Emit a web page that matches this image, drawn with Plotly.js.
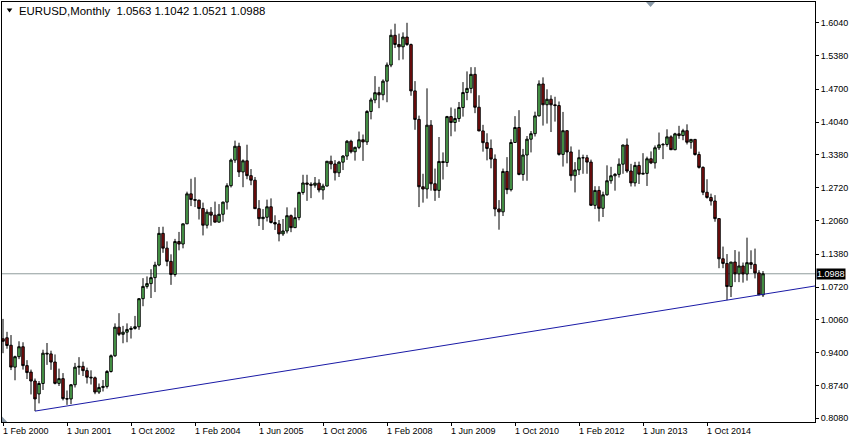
<!DOCTYPE html>
<html><head><meta charset="utf-8">
<script src="https://cdn.plot.ly/plotly-3.0.1.min.js"></script>
<style>html,body{margin:0;padding:0;background:#fff;}#chart{width:855px;height:440px;}</style>
</head><body><div id="chart"></div>
<script>
// EURUSD monthly bars, Feb 2000 .. Dec 2015 (bar index 0 = Feb 2000)
const symbol = 'EURUSD,Monthly';
const open = [
 0.9680,0.9700,0.9550,0.9110,0.9320,0.9520,0.9140,0.9010,0.8830,0.8570,0.8780,
 0.9390,0.9376,0.9212,0.8783,0.8878,0.8476,0.8469,0.8755,0.9109,0.9125,0.9039,0.8907,
 0.8895,0.8608,0.8701,0.8721,0.9022,0.9338,0.9914,0.9770,0.9813,0.9868,0.9889,0.9922,
 1.0487,1.0734,1.0790,1.0910,1.1164,1.1801,1.1504,1.1238,1.0973,1.1636,1.1587,1.1993,
 1.2596,1.2482,1.2468,1.2302,1.1965,1.2228,1.2168,1.2027,1.2185,1.2430,1.2760,1.3275,
 1.3554,1.3037,1.3261,1.2962,1.2871,1.2298,1.2097,1.2125,1.2336,1.2020,1.1990,1.1790,
 1.1849,1.2157,1.1916,1.2118,1.2623,1.2815,1.2790,1.2770,1.2812,1.2675,1.2753,1.3252,
 1.3197,1.3020,1.3234,1.3357,1.3654,1.3443,1.3532,1.3685,1.3641,1.4254,1.4486,1.4632,
 1.4589,1.4864,1.5188,1.5787,1.5602,1.5555,1.5751,1.5600,1.4668,1.4094,1.2739,1.2694,
 1.3978,1.2800,1.2666,1.3248,1.3227,1.4151,1.4032,1.4112,1.4333,1.4635,1.4718,1.5001,
 1.4339,1.3862,1.3626,1.3510,1.3296,1.2292,1.2234,1.3047,1.2681,1.3630,1.3931,1.2987,
 1.3378,1.3696,1.3807,1.4165,1.4807,1.4389,1.4500,1.4388,1.4373,1.3390,1.3867,1.3439,
 1.2961,1.3078,1.3323,1.3322,1.3235,1.2365,1.2665,1.2305,1.2577,1.2860,1.2960,1.2988,
 1.3193,1.3579,1.3056,1.2817,1.3168,1.2993,1.3008,1.3302,1.3219,1.3524,1.3582,1.3590,
 1.3743,1.3484,1.3804,1.3769,1.3867,1.3635,1.3692,1.3388,1.3129,1.2628,1.2524,1.2453,
 1.2098,1.1290,1.1196,1.0731,1.1224,1.0986,1.1145,1.0984,1.1212,1.1177,1.1005,1.0563
];
const high = [
 1.0080,0.9820,0.9755,0.9340,0.9630,0.9610,0.9250,0.9060,0.8880,0.8830,0.9460,
 0.9595,0.9440,0.9365,0.9080,0.8990,0.8640,0.8770,0.9195,0.9310,0.9220,0.9100,0.9045,
 0.8920,0.8780,0.8850,0.9050,0.9365,0.9990,1.0195,0.9940,0.9990,0.9935,1.0140,1.0500,
 1.0900,1.0935,1.1080,1.1230,1.1930,1.1935,1.1640,1.1380,1.1690,1.1830,1.1995,1.2640,
 1.2900,1.2930,1.2480,1.2420,1.2285,1.2330,1.2440,1.2390,1.2440,1.2810,1.3305,1.3667,
 1.3625,1.3290,1.3585,1.3095,1.2935,1.2470,1.2290,1.2480,1.2505,1.2165,1.2070,1.2090,
 1.2325,1.2180,1.2320,1.2640,1.2980,1.2980,1.2830,1.2935,1.2890,1.2800,1.3250,1.3365,
 1.3275,1.3260,1.3375,1.3680,1.3685,1.3545,1.3850,1.3790,1.4280,1.4530,1.4965,1.4750,
 1.4900,1.5240,1.5905,1.6020,1.5820,1.5845,1.6038,1.5620,1.4865,1.4170,1.3000,1.4719,
 1.4080,1.3105,1.3740,1.3430,1.4165,1.4335,1.4310,1.4445,1.4845,1.5060,1.5145,1.5145,
 1.4580,1.3985,1.3815,1.3690,1.3390,1.2470,1.3105,1.3335,1.3695,1.4160,1.4280,1.3500,
 1.3760,1.3860,1.4250,1.4880,1.4940,1.4700,1.4580,1.4550,1.4455,1.4245,1.3875,1.3550,
 1.3235,1.3485,1.3385,1.3380,1.3285,1.2750,1.2750,1.2640,1.3170,1.3140,1.3015,1.3310,
 1.3585,1.3710,1.3200,1.3240,1.3245,1.3415,1.3345,1.3450,1.3570,1.3830,1.3620,1.3895,
 1.3775,1.3825,1.3965,1.3905,1.3995,1.3700,1.3700,1.3445,1.3150,1.2890,1.2600,1.2570,
 1.2100,1.1535,1.1385,1.1225,1.1465,1.1435,1.1215,1.1715,1.1460,1.1495,1.1060,1.1042
];
const low = [
 0.9390,0.9480,0.9050,0.8845,0.9270,0.9060,0.8870,0.8560,0.8225,0.8380,0.8650,
 0.9155,0.9055,0.8763,0.8730,0.8440,0.8350,0.8365,0.8700,0.8955,0.8930,0.8780,0.8760,
 0.8565,0.8570,0.8620,0.8680,0.9000,0.9315,0.9735,0.9590,0.9610,0.9685,0.9865,0.9860,
 1.0335,1.0690,1.0500,1.0620,1.1140,1.1410,1.1140,1.0765,1.0930,1.1460,1.1500,1.1990,
 1.2350,1.2330,1.2080,1.1760,1.1900,1.1955,1.2030,1.2020,1.2040,1.2280,1.2725,1.3220,
 1.2935,1.2730,1.2890,1.2770,1.2300,1.1950,1.1870,1.2040,1.2000,1.1870,1.1640,1.1750,
 1.1800,1.1825,1.1910,1.2065,1.2580,1.2455,1.2510,1.2720,1.2625,1.2480,1.2745,1.3090,
 1.2865,1.2935,1.3075,1.3280,1.3410,1.3265,1.3495,1.3260,1.3580,1.4095,1.4420,1.4320,
 1.4480,1.4440,1.5145,1.5530,1.5285,1.5300,1.5575,1.4570,1.3885,1.2330,1.2420,1.2500,
 1.2660,1.2455,1.2515,1.2885,1.3140,1.3755,1.3850,1.4045,1.4150,1.4480,1.4620,1.4220,
 1.3860,1.3445,1.3270,1.3110,1.2145,1.1875,1.2150,1.2590,1.2645,1.3620,1.2970,1.2860,
 1.2860,1.3430,1.3750,1.4155,1.3970,1.4010,1.3840,1.4050,1.3365,1.3145,1.3210,1.2860,
 1.2625,1.2975,1.3000,1.3000,1.2360,1.2290,1.2040,1.2130,1.2560,1.2800,1.2660,1.2925,
 1.3000,1.3020,1.2745,1.2745,1.2795,1.2990,1.2755,1.3195,1.3105,1.3480,1.3295,1.3545,
 1.3480,1.3475,1.3705,1.3675,1.3590,1.3505,1.3365,1.3105,1.2570,1.2500,1.2360,1.2035,
 1.1100,1.1100,1.0458,1.0520,1.0820,1.0820,1.0810,1.0850,1.1085,1.0895,1.0560,1.0521
];
const close = [
 0.9630,0.9545,0.9110,0.9320,0.9520,0.9140,0.9000,0.8830,0.8470,0.8780,0.9390,
 0.9376,0.9212,0.8783,0.8878,0.8476,0.8469,0.8755,0.9109,0.9125,0.9039,0.8907,0.8895,
 0.8608,0.8701,0.8721,0.9022,0.9338,0.9914,0.9770,0.9813,0.9868,0.9889,0.9922,1.0487,
 1.0734,1.0790,1.0910,1.1164,1.1801,1.1504,1.1238,1.0973,1.1636,1.1587,1.1993,1.2596,
 1.2482,1.2468,1.2302,1.1965,1.2228,1.2168,1.2027,1.2185,1.2430,1.2760,1.3275,1.3554,
 1.3037,1.3261,1.2962,1.2871,1.2298,1.2097,1.2125,1.2336,1.2020,1.1990,1.1790,1.1849,
 1.2157,1.1916,1.2118,1.2623,1.2815,1.2790,1.2770,1.2812,1.2675,1.2753,1.3252,1.3197,
 1.3020,1.3234,1.3357,1.3654,1.3443,1.3532,1.3685,1.3641,1.4254,1.4486,1.4632,1.4589,
 1.4864,1.5188,1.5787,1.5602,1.5555,1.5751,1.5600,1.4668,1.4094,1.2739,1.2694,1.3978,
 1.2800,1.2666,1.3248,1.3227,1.4151,1.4032,1.4112,1.4333,1.4635,1.4718,1.5001,1.4339,
 1.3862,1.3626,1.3510,1.3296,1.2292,1.2234,1.3047,1.2681,1.3630,1.3931,1.2987,1.3378,
 1.3696,1.3807,1.4165,1.4807,1.4389,1.4500,1.4388,1.4373,1.3390,1.3867,1.3439,1.2961,
 1.3078,1.3323,1.3322,1.3235,1.2365,1.2665,1.2305,1.2577,1.2860,1.2960,1.2988,1.3193,
 1.3579,1.3056,1.2817,1.3168,1.2993,1.3008,1.3302,1.3219,1.3524,1.3582,1.3590,1.3743,
 1.3484,1.3804,1.3769,1.3867,1.3635,1.3692,1.3388,1.3129,1.2628,1.2524,1.2453,1.2098,
 1.1290,1.1196,1.0731,1.1224,1.0986,1.1145,1.0984,1.1212,1.1177,1.1005,1.0564,1.0988
];
// x-axis labels (bar index of each labelled month)
const xTickIdx = [0,16,32,48,64,80,96,112,128,144,160,176];
const xTickLabels = ['1 Feb 2000','1 Jun 2001','1 Oct 2002','1 Feb 2004','1 Jun 2005','1 Oct 2006',
  '1 Feb 2008','1 Jun 2009','1 Oct 2010','1 Feb 2012','1 Jun 2013','1 Oct 2014'];
const yTickVals = [0.8080,0.8740,0.9400,1.0060,1.0720,1.1380,1.2060,1.2720,1.3380,1.4040,1.4700,1.5380,1.6040];
// trend line drawn through the lows of these two bars (Oct 2000, Mar 2015)
const trendBars = [8, 181];

const n = close.length;
const x = open.map((_, i) => i);
const last = n - 1;
const xMax = 203;
const slope = (low[trendBars[1]] - low[trendBars[0]]) / (trendBars[1] - trendBars[0]);
const trendX = [trendBars[0], xMax + 2];
const trendY = trendX.map(v => low[trendBars[0]] + slope * (v - trendBars[0]));

const f4 = v => v.toFixed(4);
const FONT = '"Liberation Sans", Arial, sans-serif';

const traces = [
  {
    type: 'candlestick', x: x, open: open, high: high, low: low, close: close,
    whiskerwidth: 0, line: {width: 1},
    increasing: {line: {color: '#000000', width: 1}, fillcolor: '#5cc25c'},
    decreasing: {line: {color: '#000000', width: 1}, fillcolor: '#8b1010'},
    hoverinfo: 'none', showlegend: false
  },
  {
    type: 'scatter', mode: 'lines', x: trendX, y: trendY,
    line: {color: '#1a1aa6', width: 1}, hoverinfo: 'none', showlegend: false
  }
];

const layout = {
  width: 855, height: 440,
  margin: {l: 2, r: 40, t: 2, b: 18, pad: 0},
  paper_bgcolor: '#ffffff', plot_bgcolor: '#ffffff',
  showlegend: false, boxgap: 0.12,
  font: {family: FONT, size: 9, color: '#000'},
  xaxis: {
    range: [-0.25, xMax], showgrid: false, zeroline: false,
    showline: true, linecolor: '#000', linewidth: 1, mirror: true,
    ticks: 'outside', ticklen: 3, tickcolor: '#000', tickwidth: 1,
    tickmode: 'array', tickvals: xTickIdx, ticktext: xTickLabels,
    ticklabelposition: 'outside right', ticklabelshift: -1,
    tickfont: {family: FONT, size: 9, color: '#000'},
    rangeslider: {visible: false}, fixedrange: true
  },
  yaxis: {
    side: 'right', range: [0.80056, 1.64565], showgrid: false, zeroline: false,
    showline: true, linecolor: '#000', linewidth: 1, mirror: true,
    ticks: 'outside', ticklen: 3, tickcolor: '#000', tickwidth: 1,
    tickmode: 'array', tickvals: yTickVals, tickformat: '.4f',
    tickfont: {family: FONT, size: 9, color: '#000'},
    fixedrange: true
  },
  shapes: [
    {type: 'line', layer: 'below', xref: 'paper', x0: 0, x1: 1, yref: 'y', y0: close[last], y1: close[last],
     line: {color: '#8f9c9c', width: 1}},
    {type: 'path', xref: 'paper', yref: 'paper', path: 'M 0.7921 1 L 0.8032 1 L 0.7977 0.9881 Z',
     fillcolor: '#8a9aa8', line: {width: 0}},
    {type: 'path', xref: 'paper', yref: 'paper', path: 'M 0 0 L 0.0065 0 L 0 0.013 Z',
     fillcolor: '#8a9aa8', line: {width: 0}},
    {type: 'path', xref: 'paper', yref: 'paper', path: 'M 0.0058 0.9845 L 0.0127 0.9845 L 0.00925 0.9750 Z',
     fillcolor: '#000000', line: {width: 0}}
  ],
  annotations: [
    {xref: 'paper', yref: 'paper', x: 0.0185, y: 0.9786, xanchor: 'left', yanchor: 'middle',
     text: symbol + '\u00a0\u00a0' + [open[last], high[last], low[last], close[last]].map(f4).join('\u00a0'),
     showarrow: false, font: {family: FONT, size: 11.4, color: '#000'}},
    {xref: 'paper', yref: 'y', x: 1, y: close[last], xanchor: 'left', yanchor: 'middle', xshift: 1,
     text: f4(close[last]), showarrow: false, bgcolor: '#000000', borderpad: 0,
     font: {family: FONT, size: 9, color: '#ffffff'}}
  ]
};

Plotly.newPlot('chart', traces, layout, {staticPlot: true, displayModeBar: false});
</script>
</body></html>
